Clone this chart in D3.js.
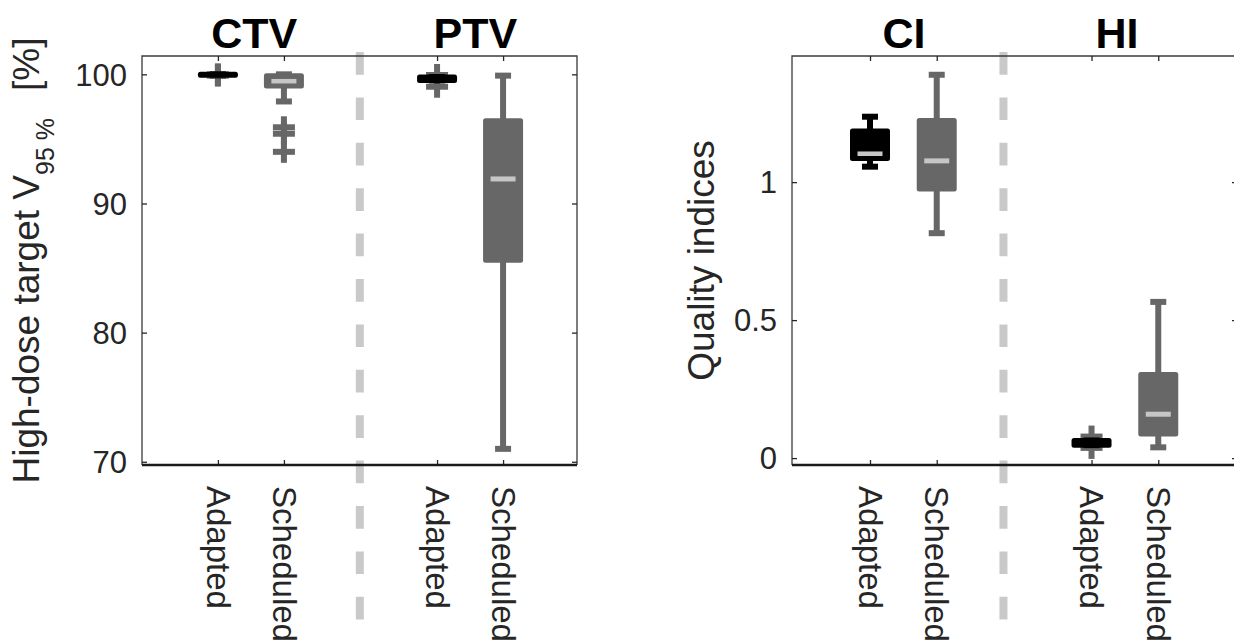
<!DOCTYPE html>
<html>
<head>
<meta charset="utf-8">
<script src="https://cdn.jsdelivr.net/npm/d3@7"></script>
<style>
	body { margin: 0; background: #fff; }
	svg { font-family: 'Liberation Sans', Arial, sans-serif; }
</style>
</head>
<body>
<div id="chart"></div>
<script>
// Categories and tick labels
const treatments = ['Adapted', 'Scheduled'];
const doseGroups = ['CTV', 'PTV'];
const indexGroups = ['CI', 'HI'];
const doseTicks = [70, 80, 90, 100];
const indexTicks = [0, 0.5, 1];

// Box statistics: [lower whisker, q1, median, q3, upper whisker]
const ctvAdapted = [99.92, 99.92, 99.96, 100, 100];
const ctvScheduled = [97.9, 99.1, 99.45, 99.9, 100];
const ptvAdapted = [99.53, 99.53, 99.66, 99.79, 99.79];
const ptvScheduled = [71.0, 85.6, 91.9, 96.4, 99.9];
const ciAdapted = [1.056, 1.086, 1.102, 1.185, 1.237];
const ciScheduled = [0.815, 0.975, 1.077, 1.223, 1.389];
const hiAdapted = [0.047, 0.047, 0.055, 0.064, 0.064];
const hiScheduled = [0.039, 0.087, 0.159, 0.303, 0.566];

// Outliers
const ctvAdaptedOut = [100, 99.9];
const ctvScheduledOut = [95.9, 95.4, 94.0];
const ptvAdaptedOut = [99.95, 99.04];
const ptvScheduledOut = [];
const ciAdaptedOut = [];
const ciScheduledOut = [];
const hiAdaptedOut = [0.078, 0.037];
const hiScheduledOut = [];

// Layout
const W = 1234, H = 643;
const plotTop = 56, plotBottom = 465;
const slots = [1, 2, 4.32, 5.32];
const boxColor = { Adapted: '#000000', Scheduled: '#676767' };
const outlierColor = '#676767';
const medianColor = '#c6c6c6';
const sepColor = '#c9c9c9';
const textColor = '#262626';

const panels = [
	{
		left: 142, right: 577, xDomain: [-0.15, 6.44], yDomain: [69.75, 101.42],
		ticks: doseTicks, groups: doseGroups, titleX: [1.55, 4.9], sep: 3.15,
		boxes: [[ctvAdapted, ctvAdaptedOut], [ctvScheduled, ctvScheduledOut], [ptvAdapted, ptvAdaptedOut], [ptvScheduled, ptvScheduledOut]],
		labelX: 39,
	},
	{
		left: 792, right: 1237, xDomain: [-0.169, 6.5], yDomain: [-0.025, 1.457],
		ticks: indexTicks, groups: indexGroups, titleX: [1.51, 4.7], sep: 3.0,
		boxes: [[ciAdapted, ciAdaptedOut], [ciScheduled, ciScheduledOut], [hiAdapted, hiAdaptedOut], [hiScheduled, hiScheduledOut]],
		labelX: 714,
	},
];

const svg = d3.select('#chart').append('svg').attr('width', W).attr('height', H);

const plus = (g, cx, cy) => {
	g.append('rect').attr('x', cx - 3).attr('y', cy - 11).attr('width', 6).attr('height', 22).attr('fill', outlierColor);
	g.append('rect').attr('x', cx - 11).attr('y', cy - 3).attr('width', 22).attr('height', 6).attr('fill', outlierColor);
};

const drawBox = (g, x, y, pos, stats, outliers, color) => {
	const cx = x(pos);
	const [lo, q1, med, q3, hi] = stats;

	outliers.forEach((v) => plus(g, cx, y(v)));

	// whiskers
	g.append('line').attr('x1', cx).attr('x2', cx).attr('y1', y(hi)).attr('y2', y(q3)).attr('stroke', color).attr('stroke-width', 6);
	g.append('line').attr('x1', cx).attr('x2', cx).attr('y1', y(q1)).attr('y2', y(lo)).attr('stroke', color).attr('stroke-width', 6);

	// caps
	[lo, hi].forEach((v) => {
		g.append('rect').attr('x', cx - 8).attr('y', y(v) - 3).attr('width', 16).attr('height', 6).attr('fill', color);
	});

	// box
	const bw = 35;
	g.append('rect').attr('x', cx - bw / 2).attr('y', y(q3)).attr('width', bw).attr('height', y(q1) - y(q3)).attr('fill', color);
	g.append('rect').attr('x', cx - 12.5).attr('y', y(med) - 2.5).attr('width', 25).attr('height', 5).attr('fill', medianColor);
	g.append('rect').attr('x', cx - bw / 2).attr('y', y(q3)).attr('width', bw).attr('height', y(q1) - y(q3))
		.attr('fill', 'none').attr('stroke', color).attr('stroke-width', 5).attr('stroke-linejoin', 'round');
};

panels.forEach((p, pi) => {
	const x = d3.scaleLinear().domain(p.xDomain).range([p.left, p.right]);
	const y = d3.scaleLinear().domain(p.yDomain).range([plotBottom, plotTop]);
	const g = svg.append('g');

	// separator
	g.append('line').attr('x1', x(p.sep)).attr('x2', x(p.sep)).attr('y1', plotTop - 4).attr('y2', plotBottom + 155)
		.attr('stroke', sepColor).attr('stroke-width', 8).attr('stroke-dasharray', '22.7 22.7');

	// frame
	g.append('path').attr('d', `M${p.left},${plotBottom}V${plotTop}H${p.right}V${plotBottom}`)
		.attr('fill', 'none').attr('stroke', '#3a3a3a').attr('stroke-width', 1.3);

	// axes
	const yAxis = g.append('g').attr('transform', `translate(${p.left},0)`)
		.call(d3.axisLeft(y).tickValues(p.ticks).tickSizeInner(-5).tickSizeOuter(0).tickPadding(15).tickFormat((d) => String(d)));
	yAxis.select('.domain').remove();
	yAxis.attr('font-family', null);
	yAxis.selectAll('line').attr('stroke', textColor).attr('stroke-width', 1.3);
	yAxis.selectAll('text').attr('font-size', 31).attr('fill', textColor).attr('dy', '0.35em');

	const yAxisR = g.append('g').attr('transform', `translate(${p.right},0)`)
		.call(d3.axisRight(y).tickValues(p.ticks).tickSizeInner(-5).tickSizeOuter(0).tickFormat(''));
	yAxisR.select('.domain').remove();
	yAxisR.selectAll('line').attr('stroke', textColor).attr('stroke-width', 1.3);

	const xAxisT = g.append('g').attr('transform', `translate(0,${plotTop})`)
		.call(d3.axisTop(x).tickValues(slots).tickSizeInner(-5).tickSizeOuter(0).tickFormat(''));
	xAxisT.select('.domain').remove();
	xAxisT.selectAll('line').attr('stroke', textColor).attr('stroke-width', 1.3);

	const labels = slots.map((s, i) => treatments[i % 2]);
	const xAxisB = g.append('g').attr('transform', `translate(0,${plotBottom})`)
		.call(d3.axisBottom(x).tickValues(slots).tickSizeInner(-5).tickSizeOuter(0).tickFormat((d, i) => labels[i]));
	xAxisB.select('.domain').remove();
	xAxisB.attr('font-family', null);
	xAxisB.selectAll('line').attr('stroke', textColor).attr('stroke-width', 1.3);
	xAxisB.selectAll('text')
		.attr('transform', 'rotate(90)')
		.attr('x', 21).attr('y', 0).attr('dy', '0.36em')
		.attr('text-anchor', 'start')
		.attr('font-size', 33).attr('fill', textColor);

	g.append('line').attr('x1', p.left).attr('x2', p.right).attr('y1', plotBottom).attr('y2', plotBottom)
		.attr('stroke', '#1a1a1a').attr('stroke-width', 2.6);

	// titles
	p.groups.forEach((name, i) => {
		g.append('text').attr('x', x(p.titleX[i])).attr('y', 48).attr('text-anchor', 'middle')
			.attr('font-size', 43).attr('font-weight', 'bold').attr('fill', '#000').text(name);
	});

	// boxes
	p.boxes.forEach(([stats, outs], i) => {
		drawBox(g, x, y, slots[i], stats, outs, boxColor[treatments[i % 2]]);
	});

	// y label
	const lab = g.append('text').attr('transform', `translate(${p.labelX},${(plotTop + plotBottom) / 2}) rotate(-90)`)
		.attr('text-anchor', 'middle').attr('font-size', 37).attr('fill', textColor);
	if (pi === 0) {
		lab.append('tspan').text('High-dose target V');
		lab.append('tspan').attr('font-size', 25).attr('dy', 15).text('95 %');
		lab.append('tspan').attr('dy', -15).attr('dx', 27).text('[%]');
	} else {
		lab.text('Quality indices');
	}
});
</script>
</body>
</html>
